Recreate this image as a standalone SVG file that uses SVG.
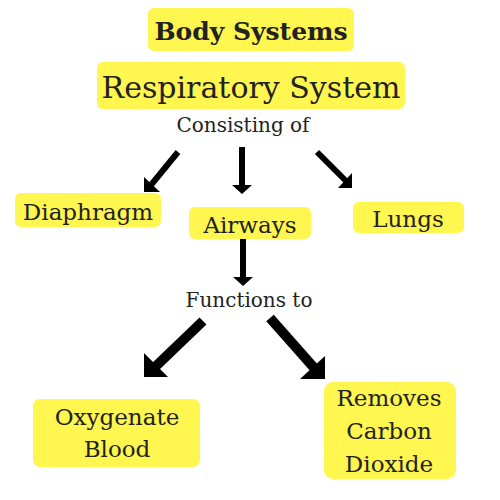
<svg xmlns="http://www.w3.org/2000/svg" width="500" height="500" viewBox="0 0 500 500">
<style>
.box{fill:#FFF64F;}
.t{font-family:"DejaVu Serif","Liberation Serif",serif;fill:#222;text-anchor:middle;}
.ln{stroke:#000;fill:none;}
.hd{fill:#000;}
</style>
<rect width="500" height="500" fill="#fff"/>
<g id="body-systems">
<rect class="box" x="148" y="8" width="206" height="43" rx="6"/>
<text class="t" x="251" y="40" font-size="25" font-weight="bold">Body Systems</text>
</g>
<g id="respiratory-system">
<rect class="box" x="97" y="62" width="308" height="47" rx="6"/>
<text class="t" x="251" y="98" font-size="30">Respiratory System</text>
</g>
<g id="consisting-of">
<text class="t" x="243" y="132" font-size="20">Consisting of</text>
</g>
<g id="diaphragm">
<rect class="box" x="15" y="193" width="146" height="34" rx="6"/>
<text class="t" x="88" y="220" font-size="23">Diaphragm</text>
</g>
<g id="airways">
<rect class="box" x="189" y="207" width="122" height="32" rx="6"/>
<text class="t" x="250" y="233" font-size="23">Airways</text>
</g>
<g id="lungs">
<rect class="box" x="353" y="202" width="111" height="31" rx="6"/>
<text class="t" x="408" y="227" font-size="23">Lungs</text>
</g>
<g id="functions-to">
<text class="t" x="249" y="307" font-size="20">Functions to</text>
</g>
<g id="oxygenate-blood">
<rect class="box" x="33" y="399" width="167" height="68" rx="7"/>
<text class="t" x="117" y="425" font-size="23">Oxygenate</text>
<text class="t" x="117" y="457" font-size="23">Blood</text>
</g>
<g id="removes-co2">
<rect class="box" x="324" y="382" width="132" height="97" rx="9"/>
<text class="t" x="389" y="406" font-size="23">Removes</text>
<text class="t" x="389" y="439" font-size="23">Carbon</text>
<text class="t" x="389" y="472" font-size="23">Dioxide</text>
</g>
<g id="connectors">
<line class="ln" x1="178" y1="152" x2="151" y2="185" stroke-width="6"/>
<polygon class="hd" points="144,177 144,192 160,192"/>
<line class="ln" x1="242" y1="147" x2="242" y2="186" stroke-width="6"/>
<polygon class="hd" points="232,185 252,185 242,194"/>
<line class="ln" x1="317" y1="152" x2="346" y2="181" stroke-width="6"/>
<polygon class="hd" points="352,173 352,188 338,188"/>
<line class="ln" x1="243" y1="239" x2="243" y2="278" stroke-width="6"/>
<polygon class="hd" points="233,277 253,277 243,286"/>
<line class="ln" x1="203" y1="321" x2="154" y2="368" stroke-width="10"/>
<polygon class="hd" points="144,353 144,377 168,377"/>
<line class="ln" x1="270" y1="318" x2="316" y2="370" stroke-width="10"/>
<polygon class="hd" points="325,356 325,379 300,379"/>
</g>
</svg>
